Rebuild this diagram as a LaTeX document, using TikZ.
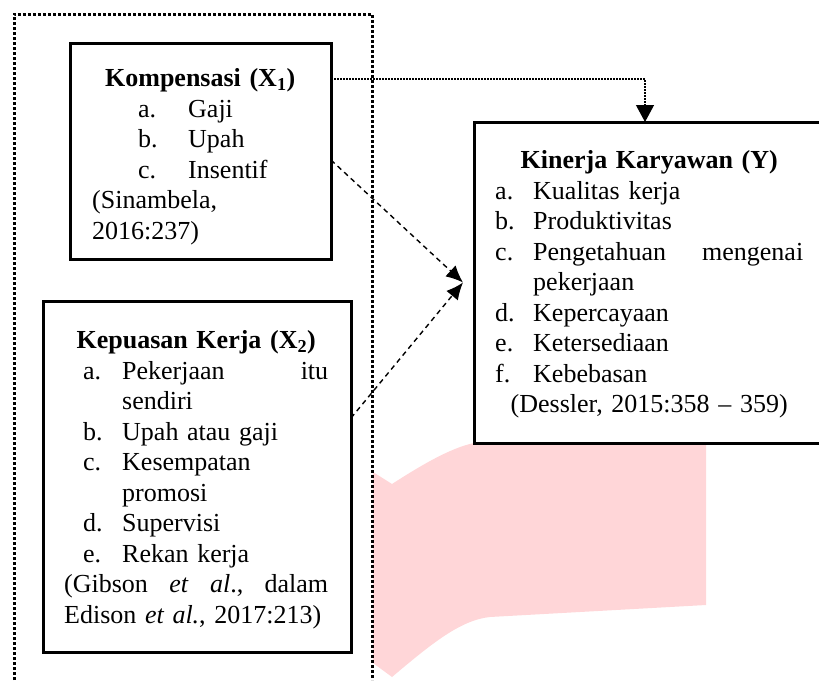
\documentclass[tikz,border=0pt]{standalone}
\usepackage{fontspec}
\setmainfont{Liberation Serif}
\usetikzlibrary{arrows.meta}
\definecolor{watermark}{RGB}{255,214,216}
\newlength{\lblind}
\newlength{\lblwd}
\newcommand{\setind}[2]{\setlength{\lblind}{#1}\setlength{\lblwd}{#2}}
\newcommand{\li}[1]{\hspace*{\lblind}\makebox[\lblwd][l]{#1}}
\newcommand{\lc}{\hspace*{\lblind}\hspace*{\lblwd}}
\newcommand{\ttl}[1]{\makebox[\hsize][c]{\strut\textbf{#1}}}
\newcommand{\jst}[1]{\makebox[\hsize][l]{#1}}

\begin{document}
\begin{tikzpicture}[
    x=1pt,
    y=-1pt,
    >={Latex[length=17pt,width=15pt]},
    box/.style={
        draw,
        rectangle,
        line width=3pt,
        anchor=north west,
        inner sep=0pt,
        outer sep=0pt,
    },
    txt/.style={
        anchor=north west,
        inner sep=0pt,
        text width=#1,
        align=left,
        font=\fontsize{26}{30.5}\selectfont,
    },
    link/.style={
        ->,
        line width=1.4pt,
        dash pattern=on 5pt off 4pt,
    },
]
    \useasboundingbox (0,0) rectangle (819,680);

    % faded shape behind the boxes
    \fill[watermark] (373,472) -- (392,484)
        .. controls (420,466) and (450,448) .. (474,443)
        -- (706,443) -- (706,605) -- (490,617)
        .. controls (460,620) and (430,645) .. (392,677)
        -- (373,663) -- cycle;

    % dotted frame round X1 and X2
    \draw[line width=3pt, dash pattern=on 3pt off 2pt]
        (14,680) -- (14,14) -- (372,14) -- (372,680);

    \begin{scope}[
        every node/.append style={
            box,
        },
    ]
        \node (komp) [minimum width=261pt, minimum height=216pt] at (70,43)  {};
        \node (kep)  [minimum width=308pt, minimum height=351pt] at (43,301) {};
        \node (kin)  [minimum width=350pt, minimum height=321pt] at (474,122) {};
    \end{scope}

    \node (kompt) [txt=216pt] at (92,65) {%
        \setind{46pt}{50pt}%
        \ttl{Kompensasi (X\textsubscript{1})}\\
        \li{a.}Gaji\\
        \li{b.}Upah\\
        \li{c.}Insentif\\
        (Sinambela,\\
        2016:237)};

    \node (kept) [txt=264pt] at (64,327) {%
        \setind{19pt}{39pt}%
        \ttl{Kepuasan Kerja (X\textsubscript{2})}\\
        \jst{\li{a.}Pekerjaan\hfill itu}\\
        \lc sendiri\\
        \li{b.}Upah atau gaji\\
        \li{c.}Kesempatan\\
        \lc promosi\\
        \li{d.}Supervisi\\
        \li{e.}Rekan kerja\\
        \jst{(Gibson\hfill\textit{et}\hfill\textit{al}.,\hfill dalam}\\
        \mbox{Edison \textit{et al.}, 2017:213)}};

    \node (kint) [txt=308pt] at (495,147) {%
        \setind{0pt}{38pt}%
        \ttl{Kinerja Karyawan (Y)}\\
        \li{a.}Kualitas kerja\\
        \li{b.}Produktivitas\\
        \jst{\li{c.}Pengetahuan\hfill mengenai}\\
        \lc pekerjaan\\
        \li{d.}Kepercayaan\\
        \li{e.}Ketersediaan\\
        \li{f.}Kebebasan\\
        \makebox[\hsize]{(Dessler, 2015:358 -- 359)}};

    \coordinate (kinin) at ([xshift=-11pt]kin.west);

    \path
    ([yshift=-9pt]komp.east)  edge [link] (kinin)
    ([yshift=58.5pt]kep.east) edge [link] (kinin);

    \draw[-{Triangle[length=17pt,width=18pt]}, line width=1.2pt, dash pattern=on 1.5pt off 1.5pt]
        ([yshift=72pt]komp.east) -| ([xshift=-4pt]kin.north);
\end{tikzpicture}
\end{document}
